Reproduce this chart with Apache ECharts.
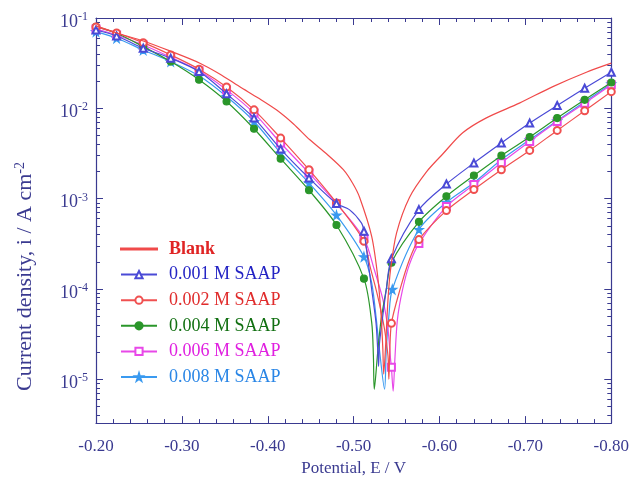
<!DOCTYPE html>
<html><head><meta charset="utf-8">
<script src="https://cdn.jsdelivr.net/npm/echarts@6/dist/echarts.min.js"></script>
<style>html,body{margin:0;padding:0;background:#fff}#c{width:632px;height:482px}</style>
</head><body><div id="c"></div>
<script>
// ---- data: [potential E (V), current density i (A cm^-2)] ----
const seriesNames = ['Blank', '0.001 M SAAP', '0.002 M SAAP', '0.004 M SAAP', '0.006 M SAAP', '0.008 M SAAP'];

const blankCurve = [[-0.200,0.0817],[-0.228,0.0665],[-0.255,0.0557],[-0.286,0.0432],[-0.321,0.0316],[-0.344,0.0240],[-0.367,0.0174],[-0.389,0.0130],[-0.410,0.00962],[-0.430,0.00670],[-0.449,0.00448],[-0.469,0.00310],[-0.488,0.00209],[-0.499,0.00147],[-0.507,1.03e-3],[-0.521,3.83e-4],[-0.528,1.38e-4],[-0.532,5.0e-5],[-0.534,2.15e-5],[-0.535,1.14e-5],[-0.537,2.15e-5],[-0.540,7.66e-5],[-0.543,1.64e-4],[-0.550,4.18e-4],[-0.565,1.03e-3],[-0.585,1.99e-3],[-0.604,3.14e-3],[-0.627,5.36e-3],[-0.654,7.79e-3],[-0.693,0.01141],[-0.732,0.0174],[-0.771,0.0251],[-0.800,0.0316]];

const m001 = [[-0.200,0.0737],[-0.224,0.0633],[-0.255,0.0463],[-0.287,0.0359],[-0.320,0.0255],[-0.352,0.01446],[-0.384,0.00779],[-0.415,0.00354],[-0.448,0.00169],[-0.480,8.81e-4],[-0.512,4.35e-4],[-0.544,2.16e-4],[-0.576,7.56e-4],[-0.608,1.45e-3],[-0.640,2.48e-3],[-0.672,4.13e-3],[-0.705,6.86e-3],[-0.737,0.01074],[-0.769,0.0167],[-0.800,0.0251]];
const c001 = [[-0.495,7.56e-4],[-0.509,5.39e-4],[-0.515,2.73e-4],[-0.521,9.87e-5],[-0.526,4.26e-5],[-0.528,2.15e-5],[-0.529,1.39e-5],[-0.530,2.44e-5],[-0.533,4.26e-5],[-0.538,9.87e-5]];

const m002 = [[-0.200,0.0796],[-0.224,0.0683],[-0.255,0.0533],[-0.287,0.0390],[-0.320,0.0271],[-0.352,0.0172],[-0.384,0.00962],[-0.415,0.00468],[-0.448,0.00209],[-0.480,8.96e-4],[-0.512,3.37e-4],[-0.544,4.16e-5],[-0.576,3.52e-4],[-0.608,7.37e-4],[-0.640,1.26e-3],[-0.672,2.09e-3],[-0.705,3.42e-3],[-0.737,5.69e-3],[-0.769,9.38e-3],[-0.800,0.0153]];
const c002 = [[-0.519,1.79e-4],[-0.528,8.33e-5],[-0.536,3.57e-5],[-0.540,1.81e-5],[-0.541,1.0e-5],[-0.542,1.9e-5],[-0.554,9.87e-5],[-0.565,2.12e-4]];

const m004 = [[-0.200,0.0801],[-0.224,0.0678],[-0.255,0.0482],[-0.287,0.0329],[-0.320,0.0207],[-0.352,0.0119],[-0.384,0.00594],[-0.415,0.00277],[-0.448,0.00124],[-0.480,5.10e-4],[-0.512,1.30e-4],[-0.544,1.95e-4],[-0.576,5.53e-4],[-0.608,1.06e-3],[-0.640,1.80e-3],[-0.672,2.99e-3],[-0.705,4.80e-3],[-0.737,7.79e-3],[-0.769,0.01241],[-0.800,0.0193]];
const c004 = [[-0.521,4.26e-5],[-0.523,1.81e-5],[-0.524,7.75e-6],[-0.528,1.99e-5],[-0.532,4.6e-5],[-0.538,9.87e-5]];

const m006 = [[-0.200,0.0756],[-0.224,0.0649],[-0.255,0.0503],[-0.287,0.0368],[-0.320,0.0260],[-0.352,0.0160],[-0.384,0.00885],[-0.415,0.00413],[-0.448,0.00192],[-0.480,8.81e-4],[-0.512,3.61e-4],[-0.544,1.36e-5],[-0.576,3.18e-4],[-0.608,8.16e-4],[-0.640,1.43e-3],[-0.672,2.50e-3],[-0.705,4.30e-3],[-0.737,7.15e-3],[-0.769,0.01141],[-0.800,0.0182]];
const c006 = [[-0.524,1.64e-4],[-0.534,7.66e-5],[-0.540,3.57e-5],[-0.543,1.66e-5],[-0.546,7.37e-6],[-0.548,1.66e-5],[-0.551,4.6e-5],[-0.557,9.87e-5],[-0.565,1.87e-4]];

const m008 = [[-0.200,0.0706],[-0.224,0.0597],[-0.255,0.0443],[-0.287,0.0329],[-0.320,0.0229],[-0.352,0.0135],[-0.384,0.00715],[-0.415,0.00320],[-0.448,0.00149],[-0.480,6.57e-4],[-0.512,2.27e-4],[-0.545,9.87e-5],[-0.576,4.55e-4],[-0.608,9.10e-4],[-0.640,1.50e-3],[-0.672,2.70e-3],[-0.705,4.48e-3],[-0.737,7.28e-3],[-0.769,0.0118],[-0.800,0.0187]];
const c008 = [[-0.521,1.17e-4],[-0.526,5.0e-5],[-0.530,2.15e-5],[-0.536,7.75e-6],[-0.538,2.15e-5],[-0.541,5.0e-5]];

// ---- styling ----
const FONT = 'Liberation Serif';
const AX = '#3a3a90';
const lineColors = ['#f04a4a', '#4a4ad6', '#f05050', '#2a962a', '#e848e8', '#3a9af0'];
const textColors = ['#e02424', '#2424c4', '#e02c2c', '#127012', '#e020e0', '#2a86e6'];
const starPath = 'path://M50,0L61,35L98,35L68,57L79,91L50,70L21,91L32,57L2,35L39,35Z';
const symbols = [null, 'emptyTriangle', 'emptyCircle', 'circle', 'emptyRect', starPath];
const markerSets = [null, m001, m002, m004, m006, m008];
const curveSets = [blankCurve, c001, c002, c004, c006, c008];

function build(markers, curve) {
  const pts = (markers || []).map(p => ({ value: p }))
    .concat(curve.map(p => ({ value: p, symbol: 'none' })));
  pts.sort((a, b) => b.value[0] - a.value[0]);
  return pts;
}

const series = seriesNames.map((name, k) => ({
  name, type: 'line', smooth: 0.3,
  data: build(markerSets[k], curveSets[k]),
  symbol: symbols[k] || 'none',
  symbolSize: k === 5 ? 9 : 7,
  showAllSymbol: true,
  color: lineColors[k],
  lineStyle: { width: 1.2, color: lineColors[k] },
  itemStyle: { color: lineColors[k], borderColor: lineColors[k], borderWidth: 1.1 },
  z: 10 - k
}));

function baseX(pos, labels) {
  return {
    type: 'value', position: pos, min: -0.8, max: -0.2, interval: 0.1, inverse: true,
    axisLine: { show: true, onZero: false, lineStyle: { color: AX, width: 1.2 } },
    axisTick: { show: true, inside: true, length: 7, lineStyle: { color: AX } },
    minorTick: { show: true, splitNumber: 5, length: 4, lineStyle: { color: AX } },
    splitLine: { show: false },
    axisLabel: labels ? { show: true, margin: 15, fontSize: 17, fontFamily: FONT, color: AX,
      formatter: v => v.toFixed(2), showMaxLabel: true, showMinLabel: true } : { show: false }
  };
}
function baseY(pos, labels) {
  return {
    type: 'log', logBase: 10, position: pos, min: 3.27e-6, max: 0.1,
    axisLine: { show: true, onZero: false, lineStyle: { color: AX, width: 1.2 } },
    axisTick: { show: true, inside: true, length: 7, lineStyle: { color: AX } },
    minorTick: { show: true, splitNumber: 9, length: 4, lineStyle: { color: AX } },
    splitLine: { show: false },
    axisLabel: labels ? { show: true, margin: 8, padding: [8, 0, 0, 0],
      rich: {
        b: { fontSize: 18, fontFamily: FONT, color: AX },
        s: { fontSize: 12, fontFamily: FONT, color: AX, padding: [0, 0, 10, 0] }
      },
      formatter: v => {
        const e = Math.log10(v); const n = Math.round(e);
        if (Math.abs(e - n) > 1e-6 || n < -5 || n > -1) return '';
        return '{b|10}{s|' + n + '}';
      } } : { show: false }
  };
}

const xMain = Object.assign(baseX('bottom', true), {
  name: 'Potential, E / V', nameLocation: 'middle', nameGap: 34,
  nameTextStyle: { fontSize: 17, fontFamily: FONT, color: AX }
});
const yMain = Object.assign(baseY('left', true), {
  name: 'Current density, i / A cm{s|-2}', nameLocation: 'middle', nameGap: 58,
  nameTextStyle: { fontSize: 22, fontFamily: FONT, color: AX, padding: [0, 112, 0, 0],
    rich: { s: { fontSize: 14, fontFamily: FONT, color: AX, padding: [0, 0, 11, 0] } } }
});

const chart = echarts.init(document.getElementById('c'), null, { renderer: 'canvas' });
chart.setOption({
  backgroundColor: '#ffffff',
  animation: false,
  grid: { left: 96, right: 20, top: 18, bottom: 58 },
  xAxis: [xMain, baseX('top', false)],
  yAxis: [yMain, baseY('right', false)],
  legend: {
    orient: 'vertical', left: 115, top: 235, padding: 5,
    itemWidth: 36, itemHeight: 9, itemGap: 7.6,
    textStyle: { fontSize: 18, fontFamily: FONT, padding: [0, 0, 0, 7] },
    data: seriesNames.map((n, k) => {
      const d = { name: n, textStyle: { color: textColors[k], fontWeight: k === 0 ? 'bold' : 'normal' } };
      if (k === 0) d.icon = 'path://M0,0H40V1.3H0Z';
      return d;
    })
  },
  series
});
</script></body></html>
